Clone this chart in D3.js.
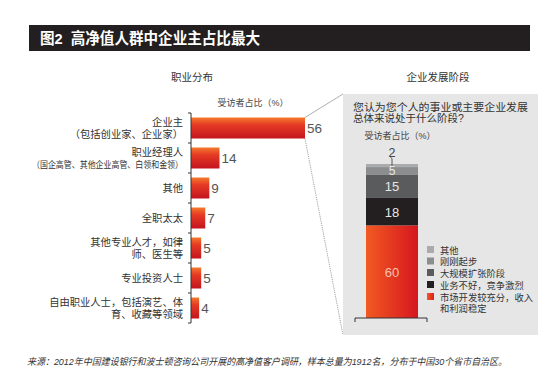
<!DOCTYPE html>
<html lang="zh-CN"><head><meta charset="utf-8">
<script src="https://cdn.jsdelivr.net/npm/d3@7"></script>
<style>
body{margin:0;background:#fff;}
svg{display:block;font-family:"Liberation Sans","Noto Sans CJK SC",sans-serif;}
</style></head>
<body>
<svg id="c" width="550" height="380" lang="zh-CN"></svg>
<script>
// ---------- data ----------
const title = "图2  高净值人群中企业主占比最大";
const leftTitle = "职业分布";
const rightTitle = "企业发展阶段";
const unitLabel = "受访者占比（%）";
const occupations = [
  ["企业主", "（包括创业家、企业家）"],
  ["职业经理人", "（国企高管、其他企业高管、白领和金领）"],
  ["其他"],
  ["全职太太"],
  ["其他专业人才，如律", "师、医生等"],
  ["专业投资人士"],
  ["自由职业人士，包括演艺、体", "育、收藏等领域"]
];
const occValues = [56, 14, 9, 7, 5, 5, 4];
const question = ["您认为您个人的事业或主要企业发展", "总体来说处于什么阶段?"];
const stages = ["其他", "刚刚起步", "大规模扩张阶段", "业务不好，竞争激烈", "市场开发较充分，收入和利润稳定"];
const stageLegend = [["其他"], ["刚刚起步"], ["大规模扩张阶段"], ["业务不好，竞争激烈"], ["市场开发较充分，收入", "和利润稳定"]];
const stageValues = [2, 5, 15, 18, 60];
const stageColors = ["#a9abad", "#8b8d8f", "#5a5b5d", "#231f20", "url(#gRed)"];
const source = "来源：2012年中国建设银行和波士顿咨询公司开展的高净值客户调研，样本总量为1912名，分布于中国30个省市自治区。";

// ---------- drawing ----------
const svg = d3.select("#c");
const defs = svg.append("defs");
const gb = defs.append("linearGradient").attr("id","gBar").attr("x1",0).attr("y1",0).attr("x2",0).attr("y2",1);
gb.append("stop").attr("offset","0%").attr("stop-color","#f47a2c");
gb.append("stop").attr("offset","35%").attr("stop-color","#e53a24");
gb.append("stop").attr("offset","100%").attr("stop-color","#c4141f");
const gr = defs.append("linearGradient").attr("id","gRed").attr("x1",0).attr("y1",0).attr("x2",1).attr("y2",0);
gr.append("stop").attr("offset","0%").attr("stop-color","#f15a22");
gr.append("stop").attr("offset","100%").attr("stop-color","#d6161f");
const gl = defs.append("linearGradient").attr("id","gLeg").attr("x1",0).attr("y1",0).attr("x2",1).attr("y2",0);
gl.append("stop").attr("offset","0%").attr("stop-color","#f15a22");
gl.append("stop").attr("offset","100%").attr("stop-color","#e01b1f");

// title bar
svg.append("rect").attr("x",29).attr("y",25).attr("width",501).attr("height",26).attr("fill","#231f20");
svg.append("text").attr("x",40).attr("y",43.5).attr("fill","#fff").attr("font-size",15.5).attr("font-weight","bold")
  .style("white-space","pre")
  .attr("textLength",220).attr("lengthAdjust","spacingAndGlyphs").text(title);

// section titles
svg.append("text").attr("x",192).attr("y",81).attr("text-anchor","middle").attr("font-size",10.5).attr("fill","#333").text(leftTitle);
svg.append("text").attr("x",438).attr("y",81).attr("text-anchor","middle").attr("font-size",10.5).attr("fill","#333").text(rightTitle);

// left bar chart
const x = d3.scaleLinear().domain([0, 56]).range([191, 305]);
const y = d3.scaleBand().domain(d3.range(occupations.length)).range([113, 323]).paddingInner(0.3).paddingOuter(0.15);

svg.append("text").attr("x",253).attr("y",106).attr("text-anchor","middle").attr("font-size",9).attr("fill","#444").text(unitLabel);

// connector lines to panel
const panel = {x0:343, x1:538, y0:94, y1:335};
svg.append("line").attr("x1",x(occValues[0])).attr("y1",y(0)).attr("x2",panel.x0).attr("y2",panel.y0)
  .attr("stroke","#8a8a8a").attr("stroke-width",0.7);
svg.append("line").attr("x1",x(occValues[0])).attr("y1",y(0)+y.bandwidth()).attr("x2",panel.x0).attr("y2",panel.y1)
  .attr("stroke","#8a8a8a").attr("stroke-width",0.8).attr("stroke-dasharray","1.2,1");

svg.selectAll("rect.bar").data(occValues).join("rect").attr("class","bar")
  .attr("x", x(0)).attr("y",(d,i)=>y(i)).attr("width",d=>x(d)-x(0)).attr("height",y.bandwidth()).attr("fill","url(#gBar)");

svg.selectAll("text.val").data(occValues).join("text").attr("class","val")
  .attr("x",d=>x(d)+2).attr("y",(d,i)=>y(i)+y.bandwidth()/2+5).attr("font-size",13.5).attr("fill","#555").text(d=>d);

// axis line + ticks at band boundaries
const step = y.step();
svg.append("line").attr("x1",x(0)).attr("x2",x(0)).attr("y1",y.range()[0]).attr("y2",y.range()[1]).attr("stroke","#333").attr("stroke-width",1);
svg.selectAll("line.tk").data(d3.range(occupations.length+1)).join("line").attr("class","tk")
  .attr("x1",x(0)-3).attr("x2",x(0)).attr("y1",i=>y.range()[0]+i*step).attr("y2",i=>y.range()[0]+i*step)
  .attr("stroke","#333").attr("stroke-width",1);

// category labels (one text element per category, lines as tspans)
occupations.forEach((lines,i)=>{
  const cy = y(i)+y.bandwidth()/2;
  const n = lines.length;
  const lh = 12.2;
  const tx = svg.append("text").attr("text-anchor","end").attr("fill","#333").attr("font-size",10.3);
  lines.forEach((t,j)=>{
    const small = (i===1 && j===1);
    const ts = tx.append("tspan").attr("x",183).attr("y",cy + (j-(n-1)/2)*lh + 4)
      .attr("font-size", small?9:10.3).text(t);
    if (small) ts.attr("textLength",151).attr("lengthAdjust","spacingAndGlyphs");
  });
});

// right panel
svg.append("rect").attr("x",panel.x0).attr("y",panel.y0).attr("width",panel.x1-panel.x0).attr("height",panel.y1-panel.y0).attr("fill","#e6e6e6");
const qt = svg.append("text").attr("font-size",10.5).attr("fill","#333");
question.forEach((t,j)=>{
  const ts = qt.append("tspan").attr("x",353).attr("y",110.5+j*11.9).text(t);
  if (j===0) ts.attr("textLength",175).attr("lengthAdjust","spacingAndGlyphs");
});
svg.append("text").attr("x",400).attr("y",138.5).attr("text-anchor","middle").attr("font-size",9).attr("fill","#444").text(unitLabel);

const ys = d3.scaleLinear().domain([0,100]).range([318,164]);
const stacked = [];
let acc = 0;
for (let i = stageValues.length-1; i>=0; i--) { stacked[i] = [acc, acc+stageValues[i]]; acc += stageValues[i]; }
const bx0 = 366, bx1 = 418;
svg.selectAll("rect.seg").data(stageValues).join("rect").attr("class","seg")
  .attr("x",bx0).attr("width",bx1-bx0)
  .attr("y",(d,i)=>ys(stacked[i][1])).attr("height",(d,i)=>ys(stacked[i][0])-ys(stacked[i][1]))
  .attr("fill",(d,i)=>stageColors[i]);
const segText = ["","#e8e8e8","#e6e6e6","#e6e6e6","#f7c4b0"];
stageValues.forEach((v,i)=>{
  if (i===0) return;
  const cy = (ys(stacked[i][0])+ys(stacked[i][1]))/2;
  svg.append("text").attr("x",(bx0+bx1)/2).attr("y",cy+ (i===1?4.5:5)).attr("text-anchor","middle")
    .attr("font-size", i===1?12:13).attr("fill",segText[i]).text(v);
});
// "2" label with leader
svg.append("text").attr("x",(bx0+bx1)/2).attr("y",157).attr("text-anchor","middle").attr("font-size",12.5).attr("fill","#444").text(stageValues[0]);
svg.append("path").attr("d",`M${(bx0+bx1)/2-1.5},157.5 L${(bx0+bx1)/2},158.5 L${(bx0+bx1)/2},${ys(100)+1.5}`).attr("fill","none").attr("stroke","#333").attr("stroke-width",0.8);
// bracket
svg.append("path").attr("d",`M355,${ys(0)+4} L355,${ys(0)} L427,${ys(0)} L427,${ys(0)+4}`).attr("fill","none").attr("stroke","#333").attr("stroke-width",1);

// legend
const legColors = ["#a9abad","#8b8d8f","#5a5b5d","#231f20","url(#gLeg)"];
const legY = [250, 261.5, 273, 285, 297];
stageLegend.forEach((lines,i)=>{
  svg.append("rect").attr("x",427).attr("y",legY[i]-4).attr("width",7).attr("height",7).attr("fill",legColors[i]);
  const lt = svg.append("text").attr("font-size",9.3).attr("fill","#333");
  lines.forEach((t,j)=>{
    lt.append("tspan").attr("x",440).attr("y",legY[i]+3.5+j*11.5).text(t);
  });
});

// source
svg.append("text").attr("x",27).attr("y",364.5).attr("font-size",9.5).attr("font-style","italic").attr("fill","#333")
  .attr("textLength",480).attr("lengthAdjust","spacingAndGlyphs").text(source);
</script>
</body></html>
